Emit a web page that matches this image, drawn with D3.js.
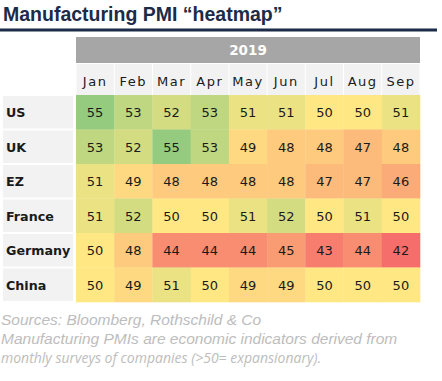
<!DOCTYPE html>
<html>
<head>
<meta charset="utf-8">
<script src="https://d3js.org/d3.v7.min.js"></script>
<style>
  body { margin: 0; background: #fff; }
  text { font-family: "DejaVu Sans", sans-serif; }
</style>
</head>
<body>
<div id="chart"></div>
<script>
// chart data
var countries = ["US", "UK", "EZ", "France", "Germany", "China"];
var months = ["Jan", "Feb", "Mar", "Apr", "May", "Jun", "Jul", "Aug", "Sep"];
var year = "2019";
var pmiUS      = [55, 53, 52, 53, 51, 51, 50, 50, 51];
var pmiUK      = [53, 52, 55, 53, 49, 48, 48, 47, 48];
var pmiEZ      = [51, 49, 48, 48, 48, 48, 47, 47, 46];
var pmiFrance  = [51, 52, 50, 50, 51, 52, 50, 51, 50];
var pmiGermany = [50, 48, 44, 44, 44, 45, 43, 44, 42];
var pmiChina   = [50, 49, 51, 50, 49, 49, 50, 50, 50];
var rows = [pmiUS, pmiUK, pmiEZ, pmiFrance, pmiGermany, pmiChina];

var width = 442, height = 381;

var svg = d3.select("#chart").append("svg")
  .attr("width", width)
  .attr("height", height);

// title + rule
svg.append("text")
  .attr("x", 3).attr("y", 21)
  .style("font-family", "Liberation Sans, Arial, sans-serif")
  .attr("font-weight", "bold")
  .attr("font-size", 19.5)
  .attr("fill", "#1c2b47")
  .text("Manufacturing PMI \u201cheatmap\u201d");

svg.append("rect")
  .attr("x", 0).attr("y", 28.5)
  .attr("width", 437).attr("height", 3)
  .attr("fill", "#1c2b47");

var x = d3.scaleBand().domain(months).range([76, 420]);
var y = d3.scaleBand().domain(countries).range([95, 302]);

var color = d3.scaleLinear()
  .domain([42, 50, 55])
  .range(["#f66e6b", "#ffe884", "#94cb7e"])
  .interpolate(d3.interpolateRgb);

// year bar
svg.append("rect")
  .attr("x", 76).attr("y", 37)
  .attr("width", 344).attr("height", 26)
  .attr("fill", "#a6a6a6");
svg.append("text")
  .attr("x", 248).attr("y", 55)
  .attr("text-anchor", "middle")
  .attr("font-weight", "bold")
  .attr("font-size", 13.5)
  .attr("fill", "#fff")
  .text(year);

// month header
svg.selectAll(".mcell")
  .data(months)
  .enter().append("rect")
  .attr("x", function(d) { return x(d) + 0.5; })
  .attr("y", 64)
  .attr("width", x.bandwidth() - 1)
  .attr("height", 31)
  .attr("fill", "#f2f2f2");

svg.selectAll(".mlabel")
  .data(months)
  .enter().append("text")
  .attr("x", function(d) { return x(d) + x.bandwidth() / 2; })
  .attr("y", 86)
  .attr("text-anchor", "middle")
  .attr("font-size", 13)
  .attr("letter-spacing", 1.5)
  .attr("fill", "#1a1a1a")
  .text(function(d) { return d; });

// row labels
svg.selectAll(".rcell")
  .data(countries)
  .enter().append("rect")
  .attr("x", 3)
  .attr("y", function(d) { return y(d) + 1; })
  .attr("width", 70)
  .attr("height", y.bandwidth() - 2)
  .attr("fill", "#f2f2f2");

svg.selectAll(".rlabel")
  .data(countries)
  .enter().append("text")
  .attr("x", 6)
  .attr("y", function(d) { return y(d) + y.bandwidth() / 2 + 5; })
  .attr("font-weight", "bold")
  .attr("font-size", 12.7)
  .attr("fill", "#1a1a1a")
  .text(function(d) { return d; });

// heat cells
var cells = [];
rows.forEach(function(r, i) {
  r.forEach(function(v, j) {
    cells.push({ country: countries[i], month: months[j], value: v });
  });
});

svg.selectAll(".cell")
  .data(cells)
  .enter().append("rect")
  .attr("x", function(d) { return x(d.month); })
  .attr("y", function(d) { return y(d.country); })
  .attr("width", x.bandwidth() + 0.3)
  .attr("height", y.bandwidth() + 0.3)
  .attr("fill", function(d) { return color(d.value); });

svg.selectAll(".val")
  .data(cells)
  .enter().append("text")
  .attr("x", function(d) { return x(d.month) + x.bandwidth() / 2; })
  .attr("y", function(d) { return y(d.country) + y.bandwidth() / 2 + 5; })
  .attr("text-anchor", "middle")
  .attr("font-size", 13)
  .attr("fill", "#1a1a1a")
  .text(function(d) { return d.value; });

// footnotes
var notes = svg.append("g")
  .attr("fill", "#bdbdbd")
  .attr("font-style", "italic");
notes.append("text")
  .attr("x", 1).attr("y", 325)
  .style("font-family", "Liberation Sans, Arial, sans-serif")
  .attr("font-size", 15.5)
  .text("Sources: Bloomberg, Rothschild & Co");
notes.append("text")
  .attr("x", 1).attr("y", 344)
  .style("font-family", "Liberation Sans, Arial, sans-serif")
  .attr("font-size", 15.5)
  .text("Manufacturing PMIs are economic indicators derived from");
notes.append("text")
  .attr("x", 1).attr("y", 363)
  .style("font-family", "Open Sans, sans-serif")
  .attr("font-size", 14)
  .text("monthly surveys of companies (>50= expansionary).");
</script>
</body>
</html>
